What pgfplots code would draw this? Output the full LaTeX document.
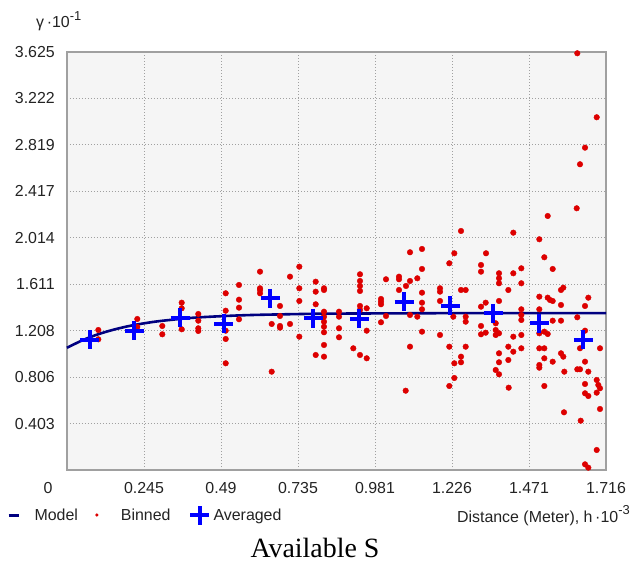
\documentclass[border=0pt]{standalone}
\usepackage{pgfplots}
\pgfplotsset{compat=1.18}
\usepackage{pgfplotstable}
\usepackage{fontspec}
\setmainfont{Liberation Sans}
\newfontfamily\capfont{Liberation Serif}

\definecolor{navymodel}{RGB}{0,0,128}
\definecolor{binred}{RGB}{221,0,0}
\definecolor{avgblue}{RGB}{0,0,255}
\definecolor{plotbg}{RGB}{245,245,245}
\definecolor{framegray}{RGB}{160,160,160}
\definecolor{labelgray}{RGB}{35,35,35}

% binned semivariance points
\pgfplotstableread{
h g
0.0997 1.2142
0.0997 1.1336
0.2238 1.3096
0.2238 1.2402
0.3034 1.2489
0.3034 1.1769
0.3652 1.4510
0.3652 1.4024
0.3652 1.2203
0.4180 1.3530
0.4180 1.2949
0.4180 1.2290
0.4180 1.2056
0.5053 1.5325
0.5053 1.3816
0.5053 1.2082
0.5053 1.1362
0.5053 0.9254
0.5476 1.6045
0.5476 1.4770
0.5476 1.4076
0.5476 1.3070
0.6145 1.7199
0.6145 1.5759
0.6145 1.5611
0.6145 1.5325
0.6517 1.2663
0.6517 0.8526
0.6781 1.4224
0.6781 1.3356
0.6781 1.2489
0.6781 1.2342
0.7100 1.6765
0.7100 1.2663
0.7396 1.7632
0.7396 1.5759
0.7396 1.4657
0.7396 1.1561
0.7918 1.6331
0.7918 1.5464
0.7918 1.4371
0.7918 0.9974
0.8182 1.5759
0.8182 1.5611
0.8182 1.3729
0.8182 1.3296
0.8182 1.2862
0.8182 1.2428
0.8182 1.1943
0.8182 1.0841
0.8182 0.9827
0.8660 1.3729
0.8660 1.3296
0.8660 1.2290
0.8660 1.1509
0.9328 1.6973
0.9328 1.6392
0.9328 1.5958
0.9328 1.5525
0.9328 1.4224
0.9328 1.3877
0.9328 0.9974
0.9115 1.0555
0.9542 0.9688
0.9542 1.4024
0.9542 1.2082
0.9997 1.4831
0.9997 1.4597
0.9997 1.4371
0.9997 1.2810
1.0156 1.6539
1.0156 1.3356
1.0570 1.6765
1.0570 1.6539
1.0570 1.5611
1.0793 1.5958
1.0920 1.8881
1.0920 1.6392
1.0920 1.3443
1.1153 1.6626
1.1153 1.3296
1.1302 1.9167
1.1302 1.7433
1.1302 1.5377
1.1302 1.4510
1.1302 1.3938
1.1302 1.1995
1.0920 1.0694
1.0783 0.6878
1.1875 1.5759
1.1875 1.5464
1.1875 1.4657
1.1875 1.1709
1.2171 1.7927
1.2331 1.8794
1.2544 2.0729
1.2171 1.0694
1.2331 0.9254
1.2331 0.7979
1.2171 0.7285
1.2299 1.3296
1.2544 1.5611
1.2693 1.5611
1.2693 1.3296
1.2693 1.2862
1.2693 1.0694
1.2544 0.9827
1.2544 0.9341
1.3181 1.7780
1.3181 1.7199
1.3181 1.4163
1.3330 1.4510
1.3340 1.8794
1.3181 1.2489
1.3181 1.1769
1.3330 1.1908
1.3754 1.7060
1.3754 1.6626
1.3754 1.6193
1.3754 1.4657
1.3649 1.2723
1.3649 1.2142
1.3754 1.1856
1.3649 1.1709
1.3754 1.0121
1.3754 0.9341
1.3649 0.8673
1.3754 0.8300
1.4062 0.7138
1.4050 1.0694
1.4050 0.9540
1.4050 1.5611
1.4209 2.0581
1.4209 1.7060
1.4209 1.1561
1.4209 1.0260
1.4464 1.7493
1.4464 1.6193
1.4464 1.3938
1.4464 1.3443
1.4464 1.3010
1.4464 1.1709
1.4464 1.0555
1.5037 2.0009
1.5304 2.2029
1.5196 1.8448
1.5463 1.7433
1.5037 1.5030
1.5037 1.3938
1.5304 1.4944
1.5377 1.4744
1.5463 1.4657
1.5727 1.4310
1.5727 1.5611
1.5801 1.5811
1.5727 1.2949
1.5463 1.2949
1.5196 1.1995
1.5037 1.1856
1.5304 1.1795
1.5037 1.0555
1.5196 1.0555
1.5196 0.9688
1.5037 0.9107
1.5037 0.8872
1.5463 0.9393
1.5727 1.0121
1.5801 0.9827
1.5833 0.8526
1.5196 0.7285
1.5823 0.5004
1.6227 2.2697
1.6246 3.6140
1.6864 3.0590
1.6492 2.7953
1.6332 2.6514
1.6246 1.3244
1.6492 1.4224
1.6597 1.4944
1.6492 1.2082
1.6332 1.0555
1.6969 1.0555
1.6492 0.9393
1.6246 0.8734
1.6332 0.8734
1.6597 0.8526
1.6492 0.7459
1.6864 0.7806
1.6915 0.7372
1.6969 0.7086
1.6864 0.6704
1.6492 0.6652
1.6597 0.6418
1.6355 0.4276
1.6969 0.5291
1.6864 0.1735
1.6492 0.0494
1.6597 0.0199
}\binned

% averaged per lag
\pgfplotstableread{
h g
0.0732 1.1275
0.2143 1.2056
0.3598 1.3209
0.4998 1.2663
0.6463 1.4892
0.7841 1.3157
0.9306 1.3096
1.0729 1.4597
1.2194 1.4224
1.3572 1.3591
1.5037 1.2723
1.6437 1.1275
}\averaged

% fitted model curve
\pgfplotstableread{
h g
0.00 1.060
0.05 1.126
0.10 1.178
0.15 1.218
0.20 1.250
0.25 1.274
0.30 1.293
0.40 1.320
0.50 1.335
0.60 1.345
0.80 1.355
1.00 1.358
1.20 1.360
1.40 1.361
1.716 1.361
}\model

\begin{document}
\begin{tikzpicture}
\path[use as bounding box] (-67bp,-96bp) rectangle (565bp,470bp);
\begin{axis}[
  at={(0,0)}, anchor=south west,
  scale only axis, width=539bp, height=418bp,
  xmin=0, xmax=1.716, ymin=0, ymax=3.625,
  axis background/.style={fill=plotbg},
  axis line style={framegray, line width=1.6bp},
  xtick={0.24514,0.49029,0.73543,0.98057,1.22571,1.47086,1.716},
  xticklabels={0.245,0.49,0.735,0.981,1.226,1.471,1.716},
  ytick={0.40278,0.80556,1.20833,1.61111,2.01389,2.41667,2.81944,3.22222,3.625},
  yticklabels={0.403,0.806,1.208,1.611,2.014,2.417,2.819,3.222,3.625},
  major tick length=0pt,
  grid=major,
  major grid style={framegray, line width=0.9bp, dash pattern=on 1bp off 2bp},
  /pgf/number format/assume math mode=true,
  tick label style={font=\fontsize{16}{18}\selectfont, text=labelgray},
  xticklabel style={anchor=north, inner sep=0pt, yshift=-12bp},
  yticklabel style={anchor=east, inner sep=0pt, xshift=-12bp},
  clip=false,
  legend columns=3,
  legend style={draw=none, fill=none, inner sep=0pt, outer sep=0pt,
    at={(rel axis cs:-0.1113,-0.1077)}, anchor=west,
    font=\fontsize{16}{18}\selectfont, text=labelgray,
    column sep=0pt, row sep=0pt},
  legend cell align=left,
]
\addlegendimage{legend image code/.code={
  \draw[navymodel, line width=3bp] (0bp,0bp) -- (10bp,0bp);
  \path[draw=none, fill=none] (0bp,0bp) -- (24bp,0bp);}}
\addlegendentry{Model}

\addplot[only marks, mark=*, mark size=2.8bp, color=binred,
  legend image code/.code={
    \fill[binred, draw=none] (17bp,0bp) circle (1.8bp);
    \path[draw=none, fill=none] (0bp,0bp) -- (39bp,0bp);}]
  table[x=h, y=g] {\binned};
\addlegendentry{Binned}

\addplot[navymodel, line width=2.6bp, smooth, forget plot] table[x=h, y=g] {\model};

\addplot[only marks, mark=+, mark size=9.5bp, color=avgblue,
  mark options={line width=4bp},
  legend image code/.code={
    \draw[avgblue, line width=4bp] (17.5bp,0bp) -- (36.5bp,0bp)
      (27bp,-9.5bp) -- (27bp,9.5bp);
    \path[draw=none, fill=none] (0bp,0bp) -- (39bp,0bp);}]
  table[x=h, y=g] {\averaged};
\addlegendentry{Averaged}

\node[anchor=north, inner sep=0pt, font=\fontsize{16}{18}\selectfont, text=labelgray]
  at (rel axis cs:0,0) [xshift=-19bp, yshift=-12bp] {0};
\node[anchor=base west, inner sep=0pt, font=\fontsize{16}{18}\selectfont, text=labelgray]
  at (rel axis cs:0,1) [xshift=-31bp, yshift=24bp]
  {γ\,·10\raisebox{0.45em}{\fontsize{13}{14}\selectfont -1}};
\node[anchor=base east, inner sep=0pt, font=\fontsize{16}{18}\selectfont, text=labelgray]
  at (rel axis cs:1,0) [xshift=24bp, yshift=-52bp]
  {Distance (Meter), h\,·10\raisebox{0.45em}{\fontsize{13}{14}\selectfont -3}};
\node[anchor=base, inner sep=0pt, font=\capfont\fontsize{28}{30}\selectfont]
  at (rel axis cs:0,0) [xshift=248bp, yshift=-87bp] {Available S};
\end{axis}
\end{tikzpicture}
\end{document}
